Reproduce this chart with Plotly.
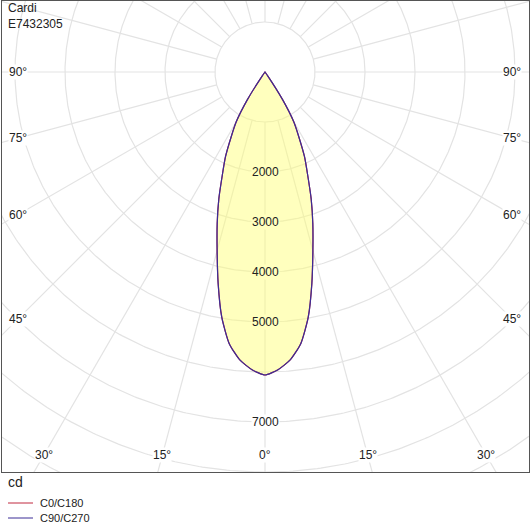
import numpy as np
import plotly.graph_objects as go

# ---------------- data ----------------
title_lines = ["Cardi", "E7432305"]
unit_label = "cd"
series_names = ["C0/C180", "C90/C270"]

gamma_deg = [0, 2.5, 5, 7.5, 10, 12.5, 15, 17.5, 20, 22.5, 25, 27.5, 30,
             32.5, 35, 37.5, 40, 50, 60, 70, 80, 90]
c0_c180 = [6060, 5960, 5780, 5480, 4980, 4330, 3700, 3180, 2700, 2230, 1870,
           1470, 1150, 650, 100, 0, 0, 0, 0, 0, 0, 0]
c90_c270 = [6060, 5960, 5780, 5480, 4980, 4330, 3700, 3180, 2700, 2230, 1870,
            1470, 1150, 650, 100, 0, 0, 0, 0, 0, 0, 0]

ring_values = [1000, 2000, 3000, 4000, 5000, 6000, 7000, 8000, 9000, 10000, 11000]
ring_labels = [2000, 3000, 4000, 5000, 7000]
spoke_angles = list(range(0, 360, 15))
angle_labels = [0, 15, 30, 45, 60, 75, 90]

# ---------------- styles ----------------
FONT = "Liberation Sans"
TEXT = "#222222"
GRID = "#e3e3e3"
FRAME = "#555555"
COLORS = ["#c0283e", "#3a2d96"]
FILL = "rgba(255,255,110,0.45)"
FILL_SOLID = "rgb(255,255,190)"

W, H = 531, 526
CD_PER_PX = 20.0
X_RANGE = [-263 * CD_PER_PX, 264 * CD_PER_PX]
Y_RANGE = [-400 * CD_PER_PX, 71.5 * CD_PER_PX]


def to_xy(r, g_deg):
    g = np.radians(g_deg)
    return np.asarray(r) * np.sin(g), -np.asarray(r) * np.cos(g)


def curve(values):
    g = np.array(gamma_deg, dtype=float)
    v = np.array(values, dtype=float)
    gg = np.concatenate([-g[::-1], g[1:]])
    vv = np.concatenate([v[::-1], v[1:]])
    return to_xy(vv, gg)


fig = go.Figure()

# grid circles
t = np.linspace(0, 360, 721)
cx, cy = [], []
for r in ring_values:
    x, y = to_xy(np.full_like(t, r), t)
    cx += list(x) + [None]
    cy += list(y) + [None]
fig.add_trace(go.Scatter(x=cx, y=cy, mode="lines", line=dict(color=GRID, width=1.2),
                         hoverinfo="skip", showlegend=False))

# grid spokes
sx, sy = [], []
for a in spoke_angles:
    x, y = to_xy([ring_values[0], ring_values[-1]], [a, a])
    sx += list(x) + [None]
    sy += list(y) + [None]
fig.add_trace(go.Scatter(x=sx, y=sy, mode="lines", line=dict(color=GRID, width=1.2),
                         hoverinfo="skip", showlegend=False))

# fill
fx, fy = curve(c90_c270)
fig.add_trace(go.Scatter(x=fx, y=fy, mode="lines", fill="toself", fillcolor=FILL,
                         line=dict(width=0, shape="spline", smoothing=0.6),
                         hoverinfo="skip", showlegend=False))

# outlines
for name, vals, col in zip(series_names, [c0_c180, c90_c270], COLORS):
    x, y = curve(vals)
    fig.add_trace(go.Scatter(x=x, y=y, mode="lines", name=name, showlegend=False,
                             line=dict(color=col, width=1.2, shape="spline", smoothing=0.6),
                             hoverinfo="skip"))

annotations = []
shapes = []
# ring labels
for r in ring_labels:
    annotations.append(dict(x=0, y=-r, xref="x", yref="y", text=str(r), showarrow=False,
                            font=dict(family=FONT, size=12, color=TEXT),
                            bgcolor=FILL_SOLID if r < c90_c270[0] else "white",
                            borderpad=0))

# angle labels on an inner box
bx = (263 - 16) * CD_PER_PX
by = 383 * CD_PER_PX
for a in angle_labels:
    for s in ([1] if a == 0 else [-1, 1]):
        g = np.radians(a)
        cands = []
        if np.sin(g) > 1e-9:
            cands.append(bx / np.sin(g))
        if np.cos(g) > 1e-9:
            cands.append(by / np.cos(g))
        tt = min(cands)
        x, y = to_xy(tt, s * a)
        annotations.append(dict(x=float(x), y=float(y), xref="x", yref="y",
                                text=f"{a}°", showarrow=False,
                                font=dict(family=FONT, size=12, color=TEXT),
                                bgcolor="white", borderpad=0))

# title lines
for i, line in enumerate(title_lines):
    annotations.append(dict(x=6 / W, y=1 - (8 + 16.5 * i) / H, xref="paper", yref="paper",
                            xanchor="left", yanchor="middle", text=line, showarrow=False,
                            font=dict(family=FONT, size=12, color=TEXT)))

annotations.append(dict(x=6 / W, y=1 - 482 / H, xref="paper", yref="paper",
                        xanchor="left", yanchor="middle", text=unit_label, showarrow=False,
                        font=dict(family=FONT, size=14, color=TEXT)))

# legend (drawn manually for compact spacing)
for i, (name, col) in enumerate(zip(series_names, COLORS)):
    yy = 1 - (503 + 15 * i) / H
    shapes.append(dict(type="line", xref="paper", yref="paper", x0=8 / W, x1=33 / W,
                       y0=yy, y1=yy, line=dict(color=col, width=1)))
    annotations.append(dict(x=38 / W, y=yy, xref="paper", yref="paper", xanchor="left",
                            yanchor="middle", text=name, showarrow=False,
                            font=dict(family=FONT, size=11, color=TEXT)))

fig.update_layout(
    width=W, height=H,
    margin=dict(l=0, r=0, t=0, b=0),
    paper_bgcolor="white", plot_bgcolor="white",
    hovermode=False,
    annotations=annotations,
    shapes=shapes,
    showlegend=False,
    xaxis=dict(range=X_RANGE, domain=[2 / W, 529 / W], showgrid=False, zeroline=False,
               showticklabels=False, ticks="", showline=True, mirror=True,
               linecolor=FRAME, linewidth=1, fixedrange=True),
    yaxis=dict(range=Y_RANGE, domain=[(H - 472) / H, (H - 0.5) / H], showgrid=False,
               zeroline=False, showticklabels=False, ticks="", showline=True,
               mirror=True, linecolor=FRAME, linewidth=1, fixedrange=True),
)

fig.write_html("out.html", config={"displayModeBar": False},
               post_script="document.body.style.margin='0px';")
